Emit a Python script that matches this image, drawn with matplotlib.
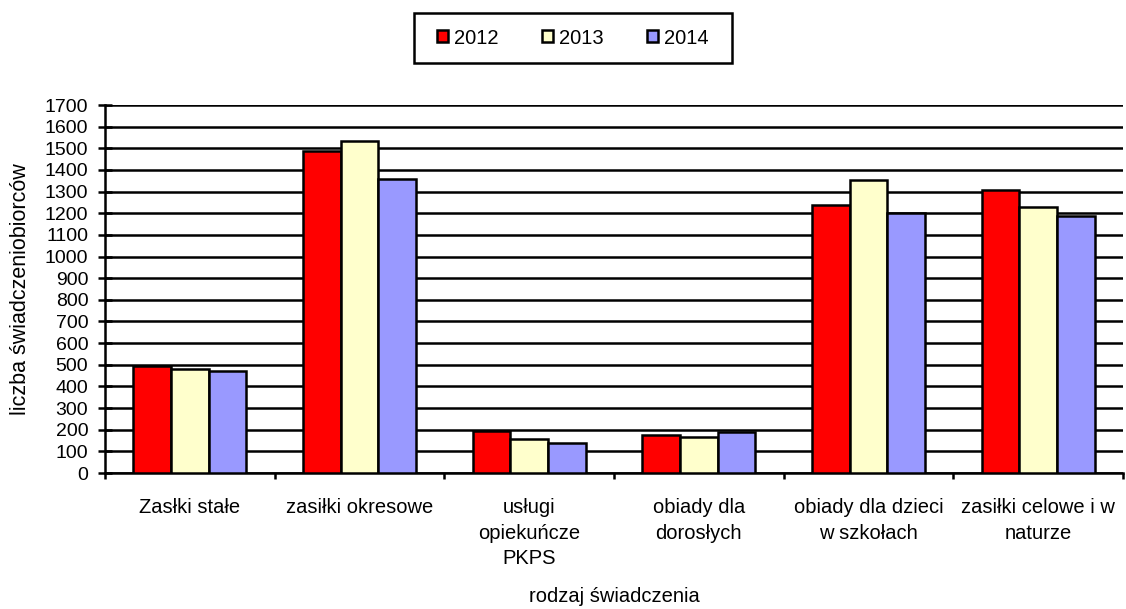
import matplotlib
matplotlib.use("Agg")
import matplotlib.pyplot as plt
from matplotlib.patches import Rectangle
import numpy as np

plt.rcParams['font.family'] = ['Liberation Sans', 'DejaVu Sans']

categories = ["Zasłki stałe", "zasiłki okresowe", "usługi\nopiekuńcze\nPKPS",
              "obiady dla\ndorosłych", "obiady dla dzieci\nw szkołach", "zasiłki celowe i w\nnaturze"]
years = ["2012", "2013", "2014"]
v2012 = [492, 1489, 192, 177, 1236, 1309]
v2013 = [480, 1535, 158, 166, 1355, 1229]
v2014 = [469, 1359, 139, 188, 1201, 1188]
yticks = list(range(0, 1701, 100))
colors = ["#FF0000", "#FFFFCC", "#9999FF"]

W, H = 1126, 609
fig = plt.figure(figsize=(W/100, H/100), dpi=100)
ax = fig.add_axes([105/W, 1-473/H, (1123-105)/W, (473-105)/H])

x = np.arange(len(categories))
w = 0.222
for i, (vals, c, lab) in enumerate(zip([v2012, v2013, v2014], colors, years)):
    ax.bar(x + (i-1)*w, vals, width=w, color=c, edgecolor="black", linewidth=1.8,
           label=lab, zorder=3)

ax.set_xlim(-0.5, len(categories)-0.5)
ax.set_ylim(0, 1700)
ax.set_yticks(yticks)
ax.set_yticklabels([str(t) for t in yticks], fontsize=14)
ax.yaxis.grid(True, color="black", linewidth=1.8, zorder=0)
ax.set_axisbelow(True)
ax.set_xticks(x)
ax.set_xticklabels(categories, fontsize=14.5, linespacing=1.45, va="top")
ax.tick_params(axis='x', length=0, pad=18)
ax.set_xticks(np.arange(-0.5, len(categories)), minor=True)
ax.tick_params(axis='x', which='minor', length=4.5, width=1.8, direction='out')
ax.tick_params(axis='y', length=10, width=1.8, direction='inout', pad=7)
for s in ["top", "right"]:
    ax.spines[s].set_visible(False)
for s in ["left", "bottom"]:
    ax.spines[s].set_linewidth(1.8)

ax.set_ylabel("liczba świadczeniobiorców", fontsize=15.5, labelpad=10)
ax.set_xlabel("rodzaj świadczenia", fontsize=14.5, labelpad=13)

leg = fig.legend(loc="center", bbox_to_anchor=(573/W, 1-38/H), ncol=3,
                 fontsize=14.5, frameon=False,
                 handlelength=0.55, handleheight=0.55, handletextpad=0.3,
                 columnspacing=2.15, borderpad=0.5)
for h in leg.legend_handles:
    h.set_linewidth(1.8)
fig.patches.append(Rectangle((414/W, 1-63/H), (732-414)/W, 50/H,
                             transform=fig.transFigure, fill=False,
                             edgecolor="black", linewidth=1.8))

fig.savefig("out.png", dpi=100)
